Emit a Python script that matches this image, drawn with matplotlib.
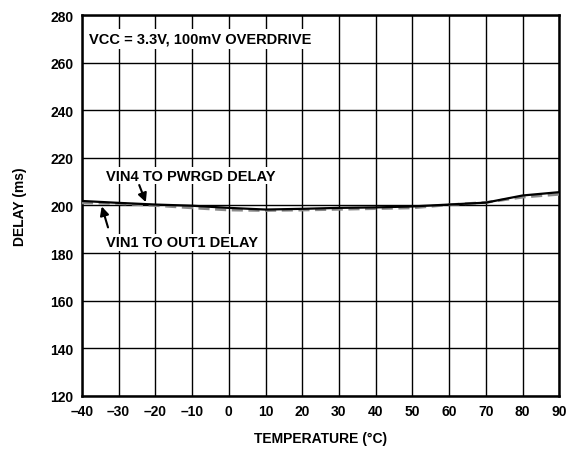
import numpy as np
import matplotlib.pyplot as plt

plt.rcParams['font.family'] = ['Liberation Sans', 'DejaVu Sans']
plt.rcParams['font.weight'] = 'bold'

# dane
temp = [-40, -30, -20, -10, 0, 10, 20, 30, 40, 50, 60, 70, 80, 90]
vin4_pwrgd = [201.9, 201.1, 200.4, 199.9, 199.0, 198.3, 198.6, 199.0, 199.2, 199.6, 200.4, 201.2, 204.2, 205.6]
vin1_out1 = [201.1, 200.8, 200.0, 199.0, 198.1, 197.9, 198.1, 198.4, 198.7, 199.0, 200.3, 201.3, 203.5, 204.7]
xticks = list(range(-40, 100, 10))
yticks = list(range(120, 300, 20))

fig = plt.figure(figsize=(5.73, 4.52), dpi=100)
ax = fig.add_axes([0.143, 0.1217, 0.833, 0.8429])

ax.plot(temp, vin1_out1, color='#8a8a8a', lw=2, ls=(0, (4, 2)), zorder=3)
ax.plot(temp, vin4_pwrgd, color='black', lw=1.6, zorder=4)

ax.set_xlim(-40, 90)
ax.set_ylim(120, 280)
ax.set_xticks(xticks)
ax.set_yticks(yticks)
ax.set_xticklabels([str(v).replace('-', '\u2013') for v in xticks], fontsize=10, fontweight='bold')
ax.set_yticklabels([str(v) for v in yticks], fontsize=10, fontweight='bold')
ax.tick_params(length=0, pad=6)
ax.grid(True, color='black', lw=1)
for s in ax.spines.values():
    s.set_linewidth(1.8)

ax.set_xlabel('TEMPERATURE (°C)', fontsize=10, fontweight='bold', labelpad=9)
ax.set_ylabel('DELAY (ms)', fontsize=10, fontweight='bold', labelpad=17)

ax.text(-38, 270, 'VCC = 3.3V, 100mV OVERDRIVE', fontsize=10.5, fontweight='bold',
        va='center', ha='left', bbox=dict(facecolor='white', edgecolor='none', pad=2))
ax.text(-33.5, 212.5, 'VIN4 TO PWRGD DELAY', fontsize=10.5, fontweight='bold',
        va='center', ha='left', bbox=dict(facecolor='white', edgecolor='none', pad=1))
ax.text(-33.5, 184.5, 'VIN1 TO OUT1 DELAY', fontsize=10.5, fontweight='bold',
        va='center', ha='left', bbox=dict(facecolor='white', edgecolor='none', pad=1))

ax.annotate('', xy=(-22.6, 201.4), xytext=(-24.4, 208.6),
            arrowprops=dict(arrowstyle='-|>', color='black', lw=1.5, mutation_scale=13,
                            shrinkA=0, shrinkB=0))
ax.annotate('', xy=(-34.6, 199.6), xytext=(-32.9, 190.8),
            arrowprops=dict(arrowstyle='-|>', color='black', lw=1.5, mutation_scale=13,
                            shrinkA=0, shrinkB=0))

plt.savefig('out.png', dpi=100)
plt.close()
